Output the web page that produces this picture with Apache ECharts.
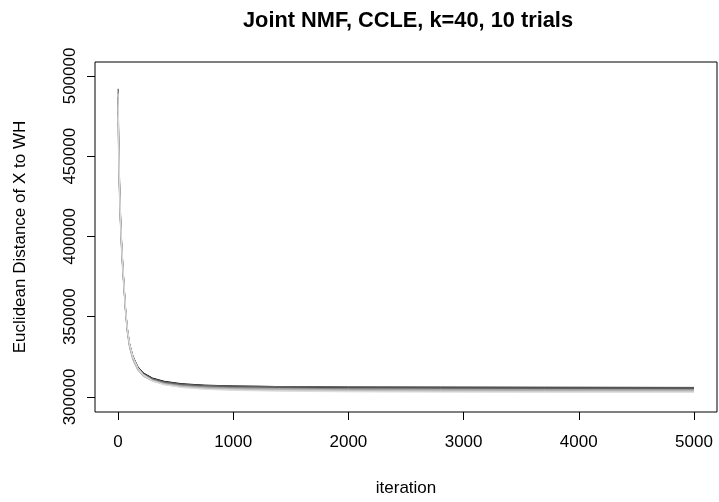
<!DOCTYPE html>
<html>
<head>
<meta charset="utf-8">
<script src="https://cdn.jsdelivr.net/npm/echarts@6/dist/echarts.min.js"></script>
<style>html,body{margin:0;padding:0;background:#fff;}#c{width:719px;height:502px;}</style>
</head>
<body>
<div id="c"></div>
<script>
const titleText = "Joint NMF, CCLE, k=40, 10 trials";
const xName = "iteration";
const yName = "Euclidean Distance of X to WH";
const xTicks = [0, 1000, 2000, 3000, 4000, 5000];
const yTicks = [300000, 350000, 400000, 450000, 500000];
const iterations = [1, 5, 10, 20, 30, 40, 50, 65, 80, 100, 130, 170, 220, 300, 400, 550, 750, 1000, 1400, 2000, 2800, 3700, 5000];
const trial1 = [487000, 463000, 441000, 415000, 397000, 384000, 372000, 355000, 343000, 333000, 325000, 319000, 315000, 311800, 309800, 308300, 307400, 306900, 306500, 306200, 306100, 306000, 305900];
const trial2 = [492000, 468000, 445000, 418000, 399000, 385000, 373000, 356000, 343500, 333500, 325500, 319200, 314800, 311500, 309500, 308000, 307100, 306600, 306100, 305800, 305600, 305500, 305400];
const trial3 = [471000, 452000, 433000, 410000, 393000, 380000, 369000, 353000, 341000, 331500, 323800, 318000, 314200, 311000, 309000, 307600, 306800, 306300, 305900, 305600, 305400, 305300, 305200];
const trial4 = [478000, 457000, 437000, 412000, 395000, 382000, 371000, 354500, 342500, 332500, 324600, 318600, 314600, 311400, 309400, 307900, 307200, 306800, 306500, 306300, 306200, 306100, 306000];
const trial5 = [485000, 460000, 438000, 411000, 393500, 380500, 369500, 353500, 341500, 331800, 324000, 318000, 314000, 310800, 308800, 307300, 306400, 305900, 305500, 305200, 305000, 304900, 304800];
const trial6 = [490000, 464000, 442000, 416000, 398000, 384500, 372500, 355500, 343000, 333000, 324800, 318400, 314000, 310600, 308500, 307000, 306000, 305400, 305000, 304700, 304500, 304400, 304300];
const trial7 = [466000, 448000, 430000, 408000, 391000, 378500, 368000, 352000, 340000, 330500, 322800, 316800, 312800, 309800, 307900, 306500, 305600, 305100, 304700, 304400, 304200, 304000, 303900];
const trial8 = [482000, 459000, 438000, 413000, 396000, 383000, 371500, 354800, 342800, 332800, 324700, 318300, 313900, 310400, 308200, 306600, 305500, 304900, 304400, 304100, 303800, 303700, 303600];
const trial9 = [475000, 455000, 435000, 410500, 394000, 381000, 370000, 353800, 341800, 332000, 324000, 317600, 313300, 309900, 307700, 306100, 305000, 304400, 303900, 303600, 303400, 303300, 303200];
const trial10 = [489000, 466000, 444000, 417000, 398500, 385000, 373000, 356000, 343500, 333200, 325000, 318500, 313800, 310000, 307600, 305900, 304800, 304100, 303600, 303200, 303000, 302900, 302900];
const trials = [trial1, trial2, trial3, trial4, trial5, trial6, trial7, trial8, trial9, trial10];
const colors = ["#000000", "#333333", "#4d4d4d", "#666666", "#808080", "#999999", "#aaaaaa", "#bbbbbb", "#cccccc", "#dddddd"];

const FONT = "Liberation Sans, Arial, sans-serif";
const chart = echarts.init(document.getElementById('c'), null, {renderer: 'canvas'});
chart.setOption({
  animation: false,
  backgroundColor: '#fff',
  title: {
    text: titleText, left: 403, top: 5, textAlign: 'center',
    textStyle: {fontFamily: FONT, fontWeight: 'bold', fontSize: 21.8, color: '#000'}
  },
  grid: {left: 95, right: 2, top: 62, bottom: 90, show: true, borderColor: '#000', borderWidth: 1, backgroundColor: 'transparent', containLabel: false, outerBoundsMode: 'none'},
  xAxis: {
    type: 'value', min: -200, max: 5200, position: 'bottom',
    name: xName, nameLocation: 'middle', nameGap: 68,
    nameTextStyle: {fontFamily: FONT, fontSize: 17, color: '#000'},
    axisLine: {show: false, onZero: false},
    splitLine: {show: false},
    axisTick: {show: true, inside: false, length: 8, customValues: xTicks, lineStyle: {color: '#000'}},
    axisLabel: {customValues: xTicks, margin: 22, fontFamily: FONT, fontSize: 17, color: '#000', formatter: v => String(v)}
  },
  yAxis: {
    type: 'value', min: 290650, max: 508700, position: 'left',
    name: yName, nameLocation: 'middle', nameGap: 66, nameRotate: 90,
    nameTextStyle: {fontFamily: FONT, fontSize: 17, color: '#000'},
    axisLine: {show: false, onZero: false},
    splitLine: {show: false},
    axisTick: {show: true, inside: false, length: 8, customValues: yTicks, lineStyle: {color: '#000'}},
    axisLabel: {customValues: yTicks, rotate: 90, margin: 16, fontFamily: FONT, fontSize: 17, color: '#000', formatter: v => String(v)}
  },
  series: trials.map((t, i) => ({
    type: 'line', name: 'trial ' + (i + 1), showSymbol: false, symbol: 'none',
    data: iterations.map((it, j) => [it, t[j]]),
    lineStyle: {color: colors[i], width: 1},
    itemStyle: {color: colors[i]}, z: 2 + i
  }))
});
</script>
</body>
</html>
